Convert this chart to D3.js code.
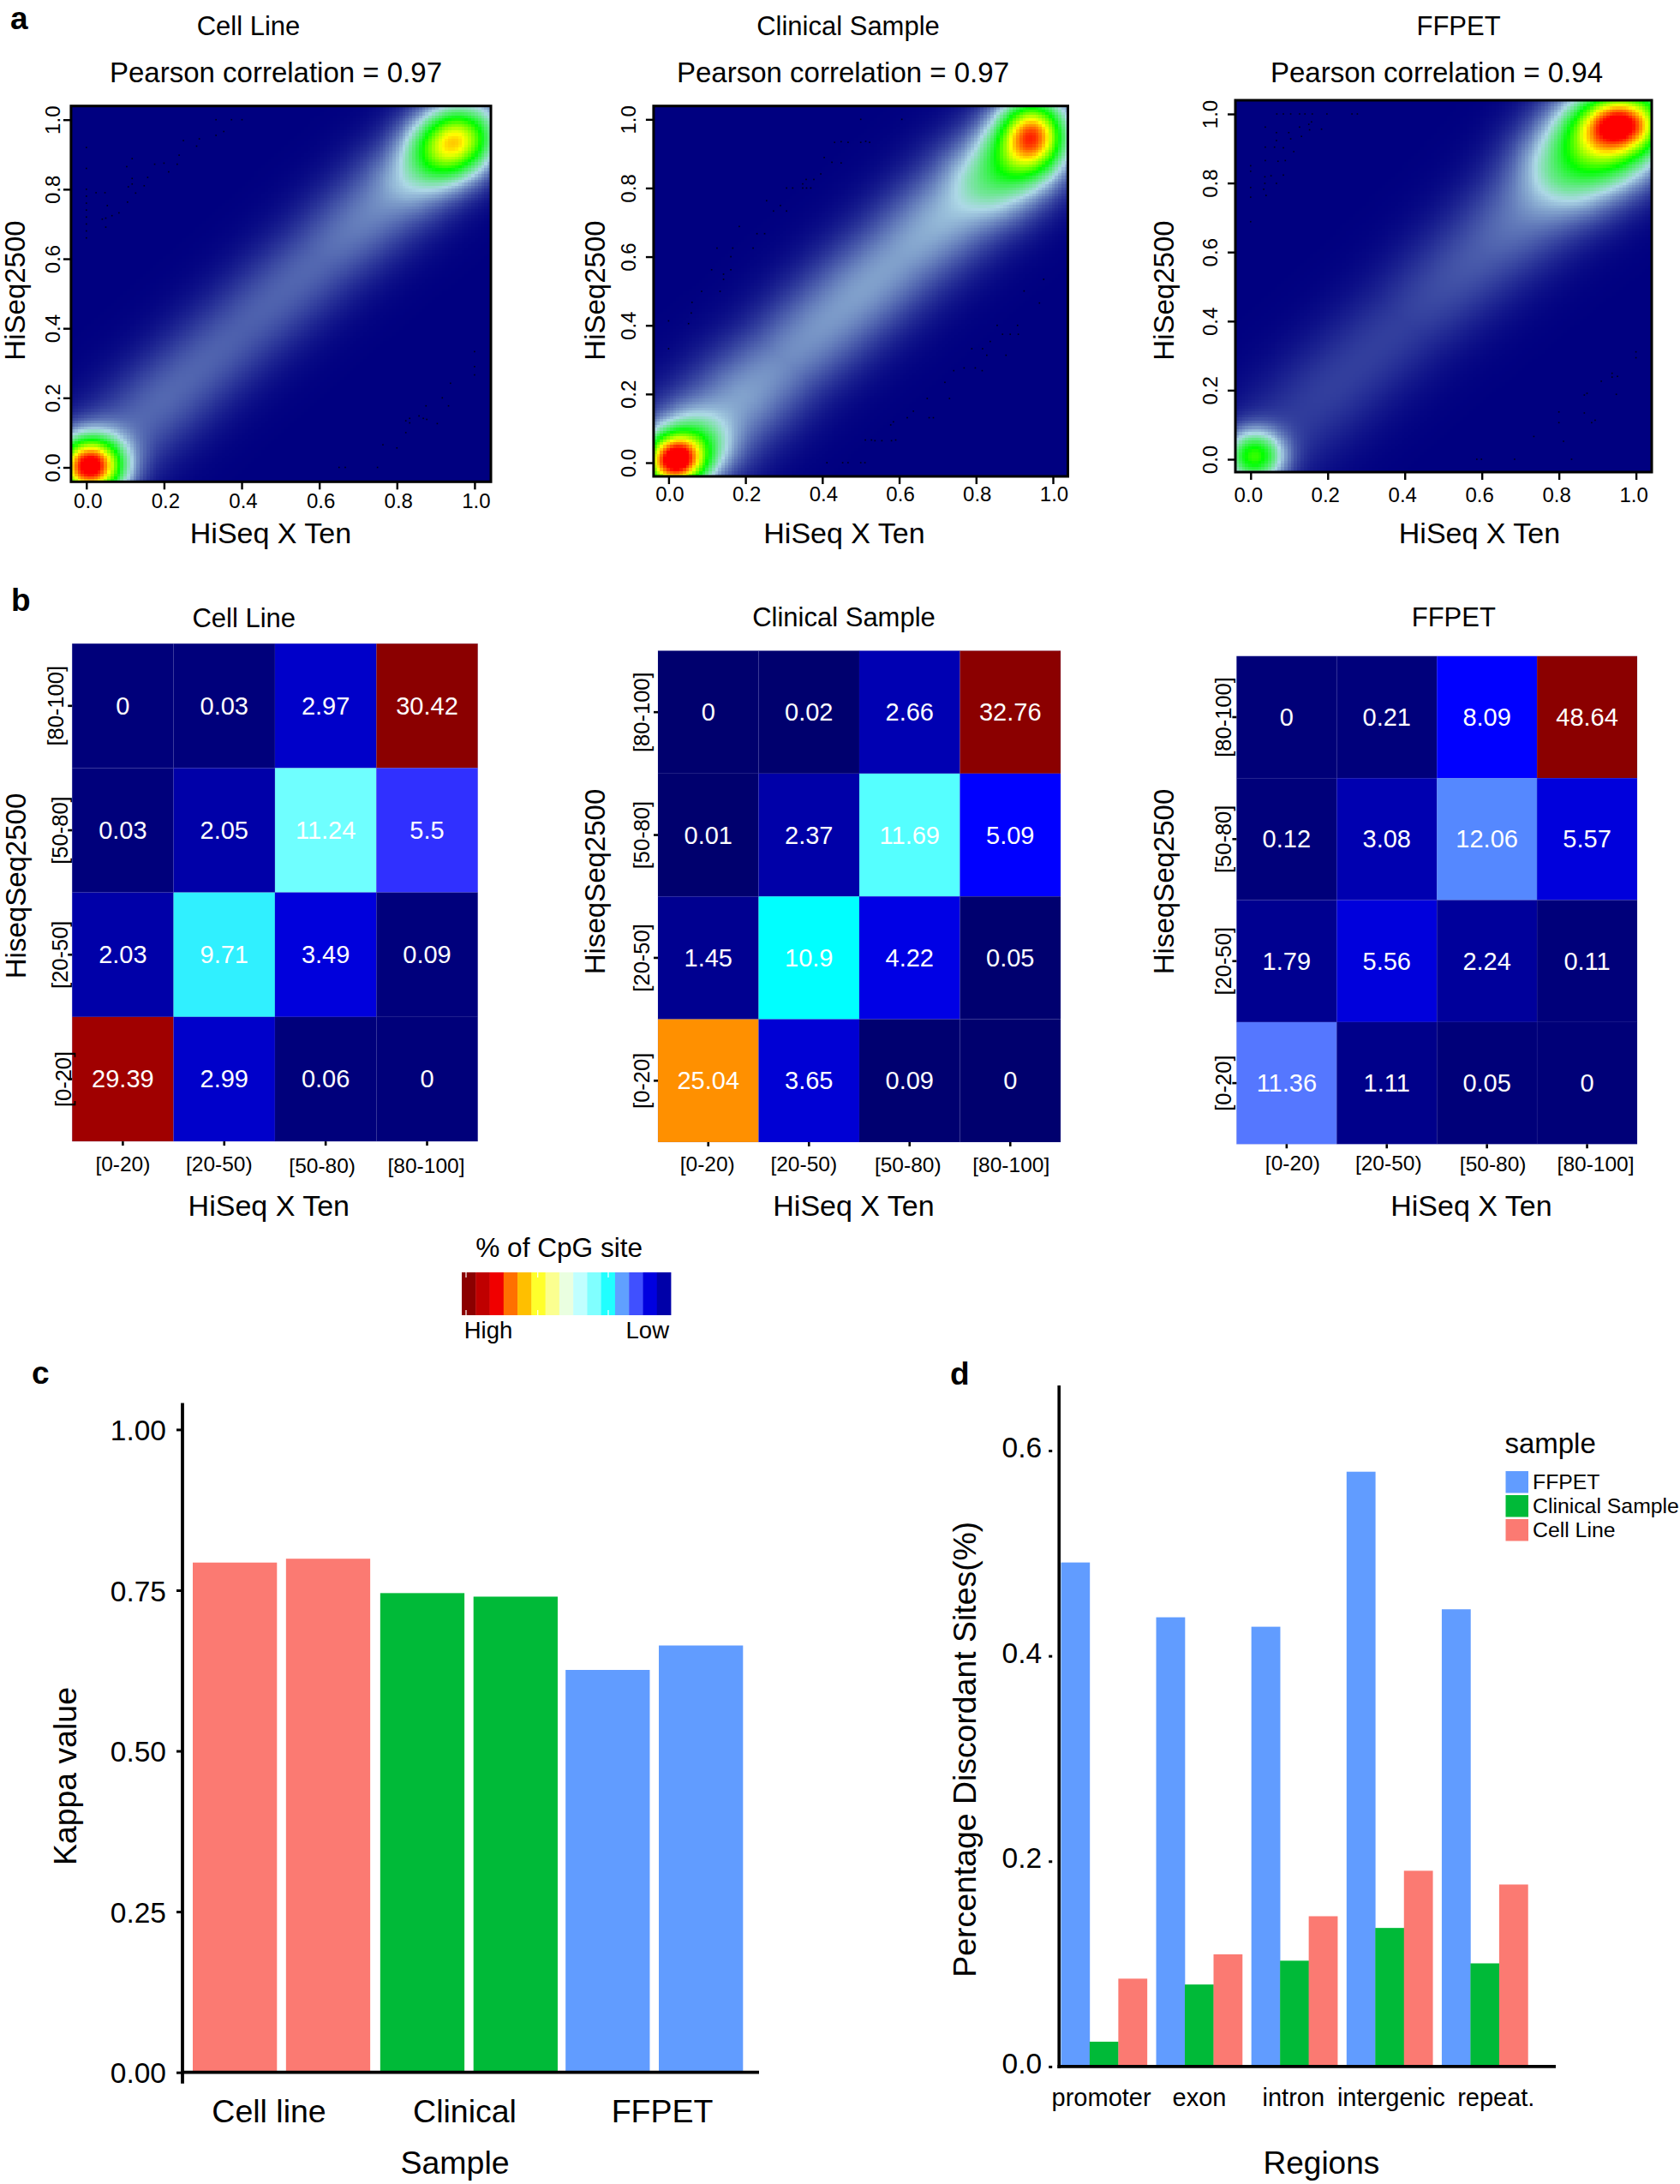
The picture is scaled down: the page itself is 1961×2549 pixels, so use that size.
<!DOCTYPE html>
<html><head><meta charset="utf-8">
<script src="https://cdnjs.cloudflare.com/ajax/libs/d3/7.8.5/d3.min.js"></script>
<style>
html,body{margin:0;padding:0;background:#fff}
svg{display:block}
text{font-family:"Liberation Sans",Arial,sans-serif;fill:#000}
</style></head><body>
<svg id="c" width="1961" height="2549"></svg>
<script>
// ---------- DATA ----------
const sampleNames = ["Cell Line","Clinical Sample","FFPET"];
const pearson = [0.97,0.97,0.94];
const densityTicks = [0,0.2,0.4,0.6,0.8,1.0];
// density modes: [x, y, sdX, sdY, rho, height]
const cellLineModes = [[0.010,0.005,0.057,0.057,0,1.0],[0.955,0.945,0.070,0.068,0.1,0.60],[0.905,0.885,0.075,0.075,0.2,0.17]];
const clinicalModes = [[0.015,0.005,0.052,0.052,0,0.86],[0.060,0.050,0.065,0.062,0,0.26],[0.948,0.960,0.058,0.070,0,0.68],[0.900,0.880,0.085,0.090,0.2,0.30]];
const ffpetModes = [[0.010,0.010,0.050,0.050,0,0.5],[0.962,0.975,0.070,0.055,0,0.55],[0.925,0.930,0.110,0.100,0.25,0.55]];
// height of the diagonal band at positions 0,0.1,...,1.0 along the diagonal, and its spread across the diagonal
const cellLineBand = [0.08,0.115,0.12,0.115,0.11,0.115,0.12,0.145,0.165,0.12,0.04];
const clinicalBand = [0.12,0.18,0.185,0.16,0.175,0.185,0.185,0.205,0.21,0.13,0.04];
const ffpetBand = [0.05,0.066,0.072,0.072,0.072,0.09,0.108,0.138,0.18,0.13,0.04];
const bandSpread = [0.125,0.135,0.14];
// isolated points
const cellLineDots = [[0,.92],[0,.86],[0,.8],[0,.78],[0,.76],[0,.74],[0,.72],[0,.7],[0,.68],[0,.66],[.025,.79],[.048,.79],[.054,.753],[.041,.714],[.05,.717],[.066,.724],[.084,.732],[.05,.691],[.106,.763],[.108,.807],[.118,.831],[.118,.815],[.127,.789],[.118,.888],[.104,.865],[.149,.81],[.158,.834],[.176,.872],[.2,.875],[.212,.85],[.234,.872],[.239,.898],[.25,.94],[.284,.924],[.291,.945],[.334,1],[.334,.955],[.354,.966],[.374,1],[.401,1],[.651,0],[.667,0],[.75,0],[.764,.065],[.8,.056],[.823,.1],[.823,.134],[.833,.141],[.833,.128],[.857,.148],[.875,.177],[.868,.141],[.877,.138],[.904,.126],[.917,.2],[.933,.177],[.938,.242],[1,.333],[1,.29],[1,.266]];
const clinicalDots = [[.5,1],[.607,1],[.432,.933],[.449,.935],[.467,.933],[.5,.933],[.513,.936],[.523,.933],[.405,.889],[.425,.875],[.449,.873],[.396,.841],[.378,.825],[.358,.825],[.349,.812],[.307,.8],[.323,.8],[.349,.8],[.359,.8],[.37,.8],[.255,.763],[.291,.749],[.273,.733],[.307,.733],[.184,.688],[.23,.667],[.25,.667],[.126,.625],[.167,.625],[.22,.625],[.162,.6],[.112,.562],[.162,.562],[.143,.549],[.143,.534],[.086,.499],[.134,.499],[.061,.467],[.059,.436],[.052,.405],[0,.413],[0,.332],[.976,.534],[.925,.5],[.965,.465],[.855,.4],[.908,.4],[.869,.374],[.889,.374],[.91,.374],[.837,.353],[.789,.332],[.817,.332],[.828,.313],[.878,.313],[.742,.268],[.769,.276],[.798,.276],[.816,.268],[.719,.234],[.673,.187],[.731,.187],[.637,.15],[.621,.131],[.678,.131],[.689,.131],[.585,.119],[.578,.11],[.512,.066],[.528,.066],[.537,.064],[.555,.064],[.58,.064],[.591,.066],[.412,0],[.453,0],[.467,0],[.5,0],[.511,0]];
const ffpetDots = [[.068,1],[.085,1],[.104,1],[.127,1],[.141,1],[.16,1],[.198,1],[.263,1],[.277,1],[.038,.962],[.067,.946],[.067,.923],[.099,.946],[.104,.928],[.127,.962],[.132,.935],[.151,.97],[.158,.977],[.153,.954],[.184,.956],[.038,.904],[.062,.904],[.085,.902],[.112,.891],[.038,.865],[.071,.863],[.09,.865],[0,.85],[0,.834],[.037,.818],[.053,.821],[.085,.823],[.037,.799],[.067,.799],[.034,.782],[.04,.764],[0,.787],[0,.759],[0,.688],[1,.311],[1,.294],[.938,.249],[.952,.24],[.938,.238],[.91,.226],[.873,.191],[.866,.186],[.949,.188],[.8,.137],[.866,.134],[.894,.113],[.885,.106],[.8,.106],[.735,.066],[.812,.052],[.587,0],[.599,0],[.685,0],[.833,0]];
const densityLevels = [0,0.25,0.5,0.75,1];
const densityColours = ["#000080","#ADD8E6","#00FF00","#FFFF00","#FF0000"];

const binXLabels = ["[0-20)","[20-50)","[50-80)","[80-100]"];
const binYLabels = ["[80-100]","[50-80]","[20-50]","[0-20]"];
const cellLineGrid = [[0,0.03,2.97,30.42],[0.03,2.05,11.24,5.5],[2.03,9.71,3.49,0.09],[29.39,2.99,0.06,0]];
const clinicalGrid = [[0,0.02,2.66,32.76],[0.01,2.37,11.69,5.09],[1.45,10.9,4.22,0.05],[25.04,3.65,0.09,0]];
const ffpetGrid = [[0,0.21,8.09,48.64],[0.12,3.08,12.06,5.57],[1.79,5.56,2.24,0.11],[11.36,1.11,0.05,0]];
const cellLineStops = [0,2.05,3.49,5.5,9.71,11.24,29.39,30.42];
const cellLineHues = ["#00007A","#0000A8","#0000DC","#3030FF","#30F0FF","#6FFFFF","#A00000","#8B0000"];
const clinicalStops = [0,1.45,2.37,3.65,5.09,10.9,11.69,25.04,32.76];
const clinicalHues = ["#00006E","#000090","#0000A8","#0000D4","#0000FF","#00FFFF","#55FFFF","#FF9000","#8B0000"];
const ffpetStops = [0,1.11,1.79,3.08,5.56,8.09,11.36,12.06,48.64];
const ffpetHues = ["#000078","#00008A","#000090","#0000B0","#0000DC","#0000FF","#5577FF","#5588FF","#8B0000"];
const scaleKeyColours = ["#8B0000","#BF0000","#F00000","#FF7000","#FFBF00","#FFFF2B","#FBFF90","#EAFFE0","#C0FFFF","#80FFFF","#20FFFF","#60A0FF","#4050FF","#0000E0","#0000A8"];

const kappaGroups = ["Cell line","Clinical","FFPET"];
const kappaRuns = ["run1","run2"];
const kappaValues = [[0.793,0.799],[0.7455,0.74],[0.626,0.664]];
const kappaTicks = [0,0.25,0.5,0.75,1];

const regions = ["promoter","exon","intron","intergenic","repeat."];
const regionSamples = ["FFPET","Clinical Sample","Cell Line"];
const ffpetDiscordant = [0.491,0.4376,0.4284,0.5794,0.4454];
const clinicalDiscordant = [0.0242,0.0799,0.1031,0.135,0.1005];
const cellLineDiscordant = [0.0856,0.1093,0.1464,0.1907,0.1773];
const discordantTicks = [0,0.2,0.4,0.6];

// ---------- LAYOUT / STYLE ----------
const RED="#FB7A72", GREEN="#00BA38", BLUE="#619CFF";
const svg = d3.select("#c");
function T(x,y,s,size,opt={}){
  const t=svg.append("text").attr("x",x).attr("y",y).attr("font-size",size).text(s)
    .attr("text-anchor",opt.anchor||"middle").attr("font-weight",opt.weight||"normal");
  if(opt.rot) t.attr("transform",`rotate(${opt.rot} ${x} ${y})`);
  if(opt.fill) t.style("fill",opt.fill);
  return t;
}
T(12,34,"a",37,{anchor:"start",weight:"bold"});
T(13,713,"b",37,{anchor:"start",weight:"bold"});
T(37,1615,"c",37,{anchor:"start",weight:"bold"});
T(1109,1616,"d",37,{anchor:"start",weight:"bold"});

// ---------- PANEL a ----------
const densityLayout = [
 {f:[82.9,573,123.7,562.3],x:[100.8,553.9],y:[545.5,139.7],title:290,pear:322,xt:316,yt:28.6,ytick:70.2,xtick:592.6,nudge:1.5},
 {f:[762.9,1246.5,123.7,556],x:[780.4,1229],y:[540,139.3],title:990,pear:984,xt:985.5,yt:705.7,ytick:742.4,xtick:585,nudge:1},
 {f:[1442,1928,117,551],x:[1459.8,1909.6],y:[536,133],title:1702.6,pear:1677,xt:1727,yt:1369.6,ytick:1421.4,xtick:586,nudge:-3}
];
const modes=[cellLineModes,clinicalModes,ffpetModes], bands=[cellLineBand,clinicalBand,ffpetBand], dots=[cellLineDots,clinicalDots,ffpetDots];
const ramp=d3.scaleLinear().domain(densityLevels).range(densityColours).clamp(true);
const bandPos=d3.range(0,1.0001,0.1);
const NB=128;
sampleNames.forEach((name,p)=>{
  const L=densityLayout[p];
  const x=d3.scaleLinear().domain([0,1]).range(L.x), y=d3.scaleLinear().domain([0,1]).range(L.y);
  const bandH=d3.scaleLinear().domain(bandPos).range(bands[p]).clamp(true);
  const sp=bandSpread[p];
  const field=(a,b)=>{
    const u=(a+b)/2, v=(a-b);
    let z=bandH(u)*Math.exp(-v*v/(2*sp*sp));
    modes[p].forEach(([mx,my,sx,sy,r,h])=>{
      const dx=(a-mx)/sx, dy=(b-my)/sy;
      z+=h*Math.exp(-(dx*dx-2*r*dx*dy+dy*dy)/(2*(1-r*r)));
    });
    return z;
  };
  const x0=x.invert(L.f[0]), x1=x.invert(L.f[1]), y0=y.invert(L.f[3]), y1=y.invert(L.f[2]);
  const dx=(x1-x0)/NB, dy=(y1-y0)/NB;
  const cells=[];
  for(let i=0;i<NB;i++)for(let j=0;j<NB;j++)cells.push([x0+i*dx,y0+j*dy]);
  const g=svg.append("g").attr("shape-rendering","crispEdges");
  g.selectAll("rect").data(cells).join("rect")
    .attr("x",d=>x(d[0])).attr("y",d=>y(d[1]+dy))
    .attr("width",x(x0+dx)-x(x0)+0.6).attr("height",y(y0)-y(y0+dy)+0.6)
    .attr("fill",d=>ramp(field(d[0]+dx/2,d[1]+dy/2)));
  svg.append("g").selectAll("rect").data(dots[p]).join("rect")
    .attr("x",d=>x(d[0])-0.8).attr("y",d=>y(d[1])-0.8).attr("width",1.6).attr("height",1.6).attr("fill","#000018");
  svg.append("rect").attr("x",L.f[0]).attr("y",L.f[2]).attr("width",L.f[1]-L.f[0]).attr("height",L.f[3]-L.f[2])
    .attr("fill","none").attr("stroke","#000").attr("stroke-width",3);
  const ax=svg.append("g").attr("transform",`translate(0,${L.f[3]})`)
    .call(d3.axisBottom(x).tickValues(densityTicks).tickFormat(d3.format(".1f")).tickSize(9));
  ax.select(".domain").remove();
  ax.selectAll("line").attr("stroke","#000").attr("stroke-width",2.4);
  ax.selectAll("text").attr("y",L.xtick-L.f[3]).attr("dy",null).attr("x",L.nudge).attr("font-size",24).attr("font-family",null);
  const ay=svg.append("g").attr("transform",`translate(${L.f[0]},0)`)
    .call(d3.axisLeft(y).tickValues(densityTicks).tickFormat(d3.format(".1f")).tickSize(9));
  ay.select(".domain").remove();
  ay.selectAll("line").attr("stroke","#000").attr("stroke-width",2.4);
  ay.selectAll("text").attr("x",null).attr("dy",null).attr("font-size",24).attr("font-family",null)
    .attr("text-anchor","middle").attr("transform",`translate(${L.ytick-L.f[0]},0) rotate(-90)`);
  T(L.title,41,name,31);
  T(L.pear,96,"Pearson correlation = "+pearson[p].toFixed(2),33);
  T(L.xt,634,"HiSeq X Ten",34);
  T(L.yt,339,"HiSeq2500",33,{rot:-90});
});

// ---------- PANEL b ----------
const heatLayout=[
 {f:[84.2,557.7,751.2,1332.1],title:284.7,titleY:731.6,xt:313.8,yt:29.6,ytY:1034,xT:[0,-6,-4,-1],xB:[1366.6,1366.6,1368.9,1368.9],yB:[74,79,79,82.7]},
 {f:[768,1238,759.5,1333],title:985,titleY:731.4,xt:996.5,yt:705.5,ytY:1029,xT:[-1,-6,-2,1],xB:[1366.9,1366.9,1368.3,1368.3],yB:[757.7,757.7,757.7,757.7]},
 {f:[1443.4,1911,765.8,1335.3],title:1696.8,titleY:731.4,xt:1717.4,yt:1370,ytY:1029,xT:[7,2,7,10],xB:[1366,1366,1367.3,1367.3],yB:[1436.6,1436.6,1436.6,1436.6]}
];
const grids=[cellLineGrid,clinicalGrid,ffpetGrid], stops=[cellLineStops,clinicalStops,ffpetStops], hues=[cellLineHues,clinicalHues,ffpetHues];
sampleNames.forEach((name,p)=>{
  const L=heatLayout[p];
  const x=d3.scaleBand().domain(binXLabels).range([L.f[0],L.f[1]]);
  const y=d3.scaleBand().domain(binYLabels).range([L.f[2],L.f[3]]);
  const col=d3.scaleLinear().domain(stops[p]).range(hues[p]);
  const cells=grids[p].flatMap((row,r)=>row.map((v,c)=>({v,c,r})));
  const g=svg.append("g");
  g.selectAll("rect").data(cells).join("rect")
    .attr("x",d=>x(binXLabels[d.c])).attr("y",d=>y(binYLabels[d.r]))
    .attr("width",x.bandwidth()).attr("height",y.bandwidth())
    .attr("fill",d=>col(d.v)).attr("stroke","#3c3ca8").attr("stroke-opacity",0.2).attr("stroke-width",0.6);
  g.selectAll("text").data(cells).join("text")
    .attr("x",d=>x(binXLabels[d.c])+x.bandwidth()/2).attr("y",d=>y(binYLabels[d.r])+y.bandwidth()/2+10)
    .attr("text-anchor","middle").attr("font-size",29).style("fill","#fff").text(d=>d.v);
  const ax=svg.append("g").attr("transform",`translate(0,${L.f[3]})`).call(d3.axisBottom(x).tickSize(5));
  ax.select(".domain").remove();
  ax.selectAll("line").attr("stroke","#000").attr("stroke-width",2.6);
  ax.selectAll("text").attr("y",(d,i)=>L.xB[i]-L.f[3]).attr("dy",null).attr("x",(d,i)=>L.xT[i]).attr("font-size",24.5).attr("font-family",null);
  const ay=svg.append("g").attr("transform",`translate(${L.f[0]},0)`).call(d3.axisLeft(y).tickSize(5));
  ay.select(".domain").remove();
  ay.selectAll("line").attr("stroke","#000").attr("stroke-width",2.6);
  ay.selectAll("text").attr("x",null).attr("dy",null).attr("font-size",25.5).attr("font-family",null)
    .attr("text-anchor","middle").attr("transform",(d,i)=>`translate(${L.yB[i]-L.f[0]},0) rotate(-90)`);
  T(L.title,L.titleY,name,31);
  T(L.xt,1419,"HiSeq X Ten",34);
  T(L.yt,L.ytY,"HiseqSeq2500",33,{rot:-90});
});
// scale key
const keyX=d3.scaleBand().domain(d3.range(scaleKeyColours.length)).range([539,783]);
svg.append("g").selectAll("rect").data(scaleKeyColours).join("rect")
  .attr("x",(d,i)=>keyX(i)).attr("y",1485).attr("width",keyX.bandwidth()+0.4).attr("height",50).attr("fill",d=>d);
[544,627.7,710].forEach(px=>{
  [[1485,1491],[1529,1535]].forEach(([a,b])=>svg.append("line").attr("x1",px).attr("x2",px).attr("y1",a).attr("y2",b).attr("stroke","#fff").attr("stroke-width",1.2));
});
T(652.7,1467,"% of CpG site",31.6);
T(541.7,1561.7,"High",27.5,{anchor:"start"});
T(781,1561.7,"Low",27.5,{anchor:"end"});

// ---------- PANEL c ----------
{
  const gx=d3.scaleBand().domain(kappaGroups).range([225,866.8]).paddingInner(0.047);
  const ix=d3.scaleBand().domain(kappaRuns).range([0,gx.bandwidth()]).paddingInner(0.097);
  const y=d3.scaleLinear().domain([0,1]).range([2418.7,1668.4]);
  const cols=d3.scaleOrdinal().domain(kappaGroups).range([RED,GREEN,BLUE]);
  const groupShift=[0,1.5,0.5];
  const g=svg.append("g");
  kappaGroups.forEach((grp,i)=>{
    g.append("g").selectAll("rect").data(kappaValues[i]).join("rect")
      .attr("x",(d,j)=>gx(grp)+ix(kappaRuns[j])+groupShift[i]).attr("y",d=>y(d))
      .attr("width",ix.bandwidth()).attr("height",d=>y(0)-y(d)).attr("fill",cols(grp));
  });
  const ay=svg.append("g").attr("transform","translate(213,0)")
    .call(d3.axisLeft(y).tickValues(kappaTicks).tickFormat(d3.format(".2f")).tickSize(7).tickPadding(12));
  ay.select(".domain").remove();
  ay.selectAll("line").attr("stroke","#000").attr("stroke-width",3);
  ay.selectAll("text").attr("font-size",33.5).attr("font-family",null).attr("dy","0.36em");
  svg.append("line").attr("x1",213).attr("x2",213).attr("y1",1637.5).attr("y2",2431.7).attr("stroke","#000").attr("stroke-width",3.8);
  svg.append("line").attr("x1",211).attr("x2",886).attr("y1",2418.7).attr("y2",2418.7).attr("stroke","#000").attr("stroke-width",3.8);
  [314,542.5,773].forEach((cx,i)=>T(cx,2477,kappaGroups[i],37.5));
  T(531,2536.7,"Sample",37.5);
  T(89,2073,"Kappa value",37.4,{rot:-90});
}

// ---------- PANEL d ----------
{
  const gx=d3.scaleBand().domain(regions).range([1238.4,1783.4]).paddingInner(0.096);
  const ix=d3.scaleBand().domain(regionSamples).range([0,gx.bandwidth()]);
  const y=d3.scaleLinear().domain([0,0.6]).range([2411.9,1693]);
  const cols=d3.scaleOrdinal().domain(regionSamples).range([BLUE,GREEN,RED]);
  const series=[ffpetDiscordant,clinicalDiscordant,cellLineDiscordant];
  regionSamples.forEach((s,k)=>{
    svg.append("g").selectAll("rect").data(series[k]).join("rect")
      .attr("x",(d,i)=>gx(regions[i])+ix(s)).attr("y",d=>y(d))
      .attr("width",ix.bandwidth()+0.3).attr("height",d=>y(0)-y(d)).attr("fill",cols(s));
  });
  const ay=svg.append("g").attr("transform","translate(1236.2,0)")
    .call(d3.axisLeft(y).tickValues(discordantTicks).tickFormat(d3.format(".1f")).tickSize(0).tickPadding(20));
  ay.select(".domain").remove();
  ay.selectAll("text").attr("font-size",33.5).attr("font-family",null).attr("dy","0.22em");
  ay.selectAll(".tick").append("rect").attr("x",-12).attr("y",-1.5).attr("width",4).attr("height",3).attr("fill","#000");
  svg.append("line").attr("x1",1236.2).attr("x2",1236.2).attr("y1",1617).attr("y2",2414).attr("stroke","#000").attr("stroke-width",3.6);
  svg.append("line").attr("x1",1234.4).attr("x2",1816).attr("y1",2411.9).attr("y2",2411.9).attr("stroke","#000").attr("stroke-width",3.6);
  [1285.6,1400,1509.8,1623.8,1746.3].forEach((cx,i)=>T(cx,2457.6,regions[i],29));
  T(1542.4,2537,"Regions",37);
  T(1139,2041.7,"Percentage Discordant Sites(%)",37.4,{rot:-90});
  T(1756.4,1696,"sample",33,{anchor:"start"});
  const legY=d3.scaleBand().domain(regionSamples).range([1717,1801]);
  svg.append("g").selectAll("rect").data(regionSamples).join("rect")
    .attr("x",1757.5).attr("y",d=>legY(d)).attr("width",26.5).attr("height",legY.bandwidth()-2.5).attr("fill",d=>cols(d));
  regionSamples.forEach(s=>T(1789,legY(s)+20.6,s,24.8,{anchor:"start"}));
}
</script></body></html>
